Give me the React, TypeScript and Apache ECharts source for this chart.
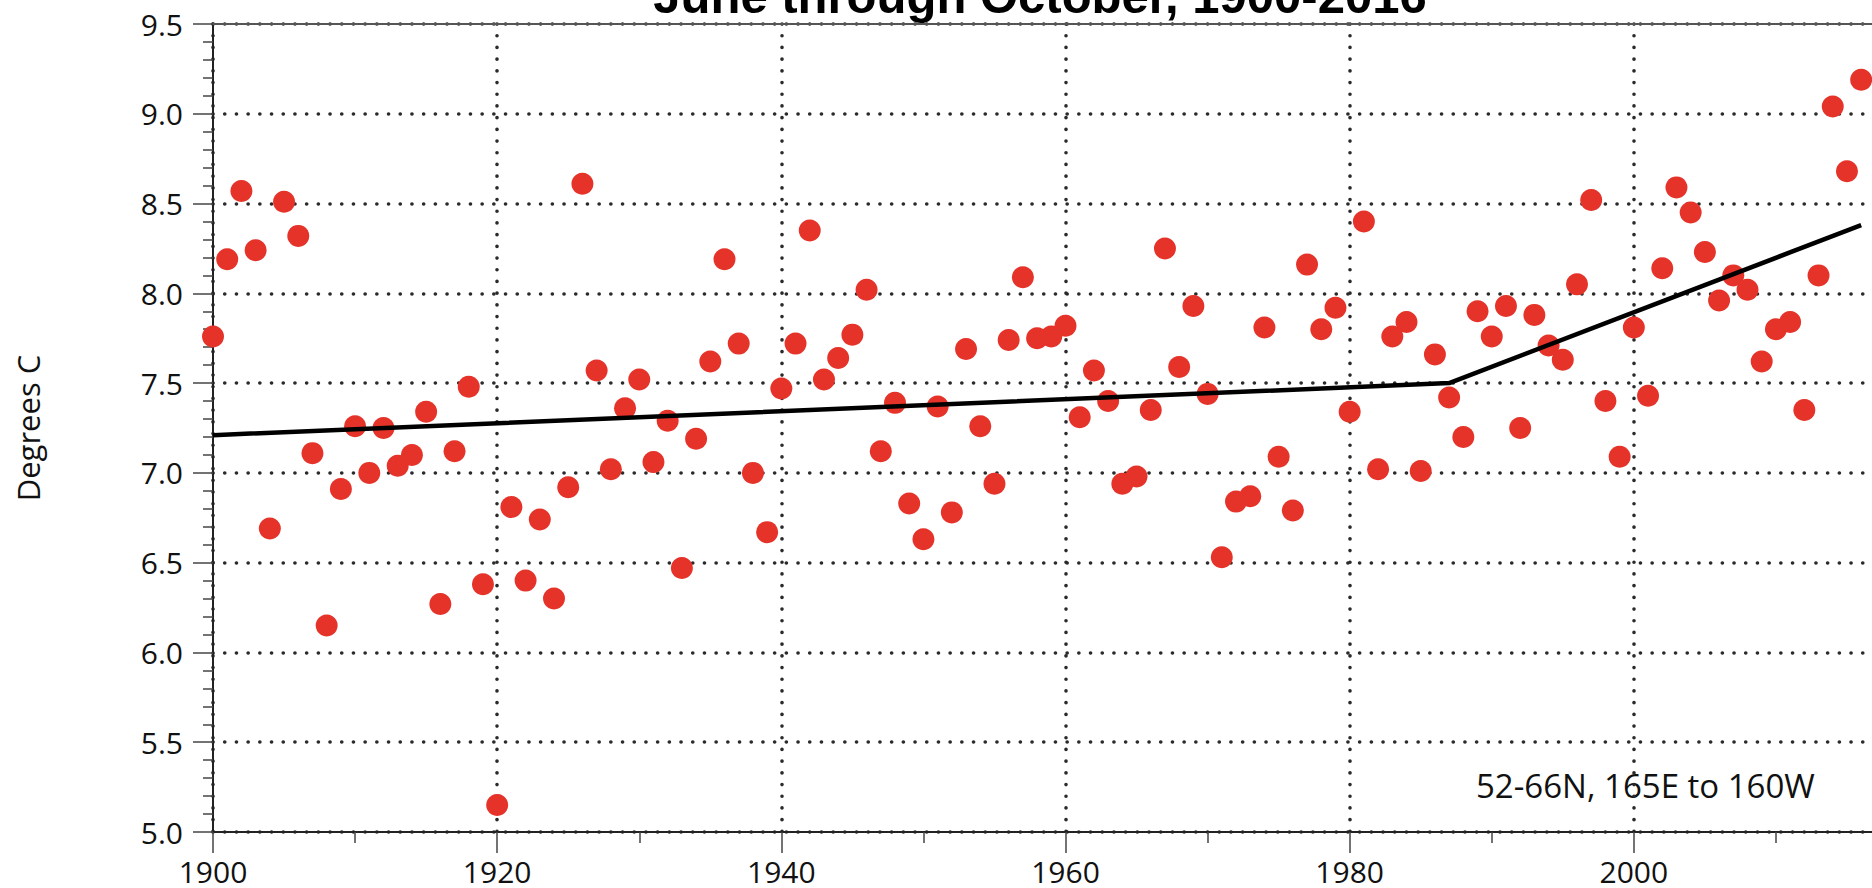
import React, { useEffect, useRef } from "react";
import * as echarts from "echarts";

const titleText = "June through October, 1900-2016";
const yAxisName = "Degrees C";
const regionNote = "52-66N, 165E to 160W";

const years = [
  1900, 1901, 1902, 1903, 1904, 1905, 1906, 1907, 1908, 1909,
  1910, 1911, 1912, 1913, 1914, 1915, 1916, 1917, 1918, 1919,
  1920, 1921, 1922, 1923, 1924, 1925, 1926, 1927, 1928, 1929,
  1930, 1931, 1932, 1933, 1934, 1935, 1936, 1937, 1938, 1939,
  1940, 1941, 1942, 1943, 1944, 1945, 1946, 1947, 1948, 1949,
  1950, 1951, 1952, 1953, 1954, 1955, 1956, 1957, 1958, 1959,
  1960, 1961, 1962, 1963, 1964, 1965, 1966, 1967, 1968, 1969,
  1970, 1971, 1972, 1973, 1974, 1975, 1976, 1977, 1978, 1979,
  1980, 1981, 1982, 1983, 1984, 1985, 1986, 1987, 1988, 1989,
  1990, 1991, 1992, 1993, 1994, 1995, 1996, 1997, 1998, 1999,
  2000, 2001, 2002, 2003, 2004, 2005, 2006, 2007, 2008, 2009,
  2010, 2011, 2012, 2013, 2014, 2015, 2016,
];

const temps = [
  7.76, 8.19, 8.57, 8.24, 6.69, 8.51, 8.32, 7.11, 6.15, 6.91,
  7.26, 7.0, 7.25, 7.04, 7.1, 7.34, 6.27, 7.12, 7.48, 6.38,
  5.15, 6.81, 6.4, 6.74, 6.3, 6.92, 8.61, 7.57, 7.02, 7.36,
  7.52, 7.06, 7.29, 6.47, 7.19, 7.62, 8.19, 7.72, 7.0, 6.67,
  7.47, 7.72, 8.35, 7.52, 7.64, 7.77, 8.02, 7.12, 7.39, 6.83,
  6.63, 7.37, 6.78, 7.69, 7.26, 6.94, 7.74, 8.09, 7.75, 7.76,
  7.82, 7.31, 7.57, 7.4, 6.94, 6.98, 7.35, 8.25, 7.59, 7.93,
  7.44, 6.53, 6.84, 6.87, 7.81, 7.09, 6.79, 8.16, 7.8, 7.92,
  7.34, 8.4, 7.02, 7.76, 7.84, 7.01, 7.66, 7.42, 7.2, 7.9,
  7.76, 7.93, 7.25, 7.88, 7.71, 7.63, 8.05, 8.52, 7.4, 7.09,
  7.81, 7.43, 8.14, 8.59, 8.45, 8.23, 7.96, 8.1, 8.02, 7.62,
  7.8, 7.84, 7.35, 8.1, 9.04, 8.68, 9.19,
];

const trendYears = [1900, 1987, 2016];
const trendTemps = [7.21, 7.5, 8.38];

export default function App() {
  const ref = useRef<HTMLDivElement>(null);

  useEffect(() => {
    document.body.style.margin = "0";
    const chart = echarts.init(ref.current as HTMLDivElement, null, { renderer: "svg" });

    const dotted = { color: "#2a2a2a", width: 3.6, type: [0.1, 11.6], cap: "round" };
    const tickLine = { color: "#444", width: 1.5 };
    const labelFont = { fontFamily: "Open Sans", fontSize: 30, color: "#111", lineHeight: 28 };

    chart.setOption({
      animation: false,
      backgroundColor: "#ffffff",
      grid: {
        left: 213,
        top: 24,
        right: -46,
        bottom: 56,
        containLabel: false,
        outerBoundsMode: "none",
      },
      xAxis: [
        {
          type: "value",
          min: 1900,
          max: 2020,
          interval: 20,
          axisLine: { show: true, onZero: false, lineStyle: { color: "#222", width: 2 } },
          axisTick: { show: true, length: 21, lineStyle: tickLine },
          minorTick: { show: true, splitNumber: 2, length: 11, lineStyle: tickLine },
          axisLabel: {
            ...labelFont,
            margin: 25,
            showMaxLabel: false,
            formatter: (v: number) => (v >= 2020 ? "" : String(v)),
          },
          splitLine: { show: true, lineStyle: dotted },
        },
        {
          type: "value",
          position: "top",
          min: 1900,
          max: 2020,
          interval: 20,
          axisLine: { show: true, onZero: false, lineStyle: { color: "#555", width: 2 } },
          axisTick: { show: false },
          axisLabel: { show: false },
          splitLine: { show: false },
        },
      ],
      yAxis: {
        type: "value",
        min: 5,
        max: 9.5,
        interval: 0.5,
        axisLine: { show: true, onZero: false, lineStyle: { color: "#222", width: 2 } },
        axisTick: { show: true, length: 20, lineStyle: tickLine },
        minorTick: { show: true, splitNumber: 5, length: 10, lineStyle: tickLine },
        axisLabel: { ...labelFont, margin: 30, formatter: (v: number) => v.toFixed(1) },
        splitLine: { show: true, lineStyle: dotted },
      },
      graphic: [
        {
          type: "text",
          x: 1040,
          y: -4,
          style: {
            text: titleText,
            font: "bold 49px 'Liberation Sans', Arial, sans-serif",
            fill: "#000",
            align: "center",
            verticalAlign: "middle",
          },
          z: 10,
        },
        {
          type: "text",
          x: 28,
          y: 428,
          rotation: Math.PI / 2,
          style: {
            text: yAxisName,
            font: "31px 'Open Sans', sans-serif",
            fill: "#111",
            align: "center",
            verticalAlign: "middle",
          },
        },
        {
          type: "text",
          x: 1476,
          y: 785,
          style: {
            text: regionNote,
            font: "33px 'Open Sans', sans-serif",
            fill: "#111",
            align: "left",
            verticalAlign: "middle",
          },
        },
      ],
      series: [
        {
          type: "scatter",
          data: years.map((y, i) => [y, temps[i]]),
          symbol: "circle",
          symbolSize: 22,
          itemStyle: { color: "#e5332a", opacity: 1 },
          z: 2,
        },
        {
          type: "line",
          data: trendYears.map((y, i) => [y, trendTemps[i]]),
          symbol: "none",
          lineStyle: { color: "#000", width: 4.5 },
          z: 3,
        },
      ],
    });

    return () => chart.dispose();
  }, []);

  return (
    <div
      ref={ref}
      style={{ position: "absolute", left: 0, top: 0, width: 1872, height: 888, overflow: "hidden" }}
    />
  );
}
